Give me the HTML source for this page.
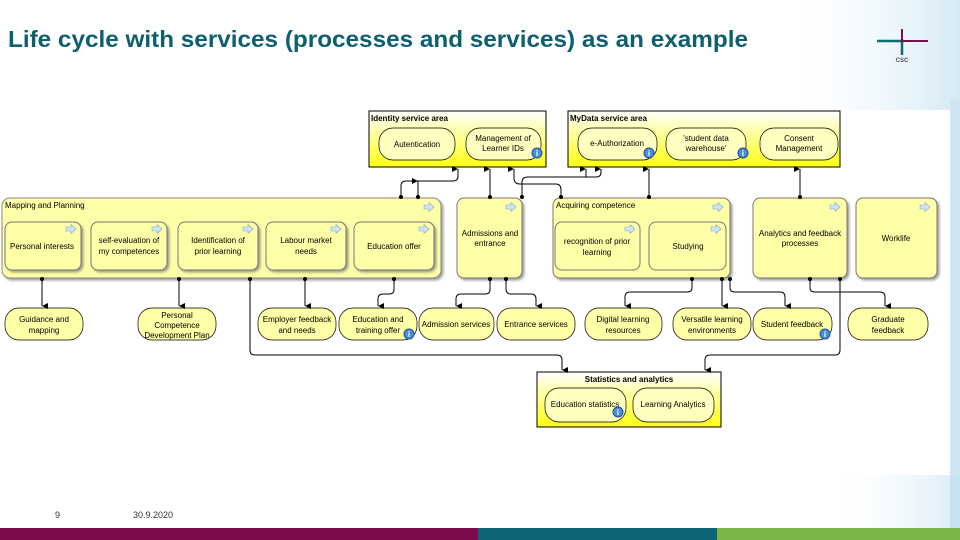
<!DOCTYPE html>
<html><head><meta charset="utf-8"><style>
html,body{margin:0;padding:0;background:#fff;}
svg{display:block;font-family:"Liberation Sans",sans-serif;}
</style></head><body>
<svg width="960" height="540" viewBox="0 0 960 540" xmlns="http://www.w3.org/2000/svg">
<defs>
<linearGradient id="ya" x1="0" y1="0" x2="0" y2="1"><stop offset="0" stop-color="#ffffff"/><stop offset="1" stop-color="#ffff10"/></linearGradient>
<linearGradient id="bg" x1="0" y1="0" x2="1" y2="0"><stop offset="0" stop-color="#ffffff" stop-opacity="0"/><stop offset="1" stop-color="#bfe0f0"/></linearGradient>
<filter id="sh" x="-5%" y="-5%" width="115%" height="120%"><feDropShadow dx="2" dy="2" stdDeviation="1.2" flood-color="#777" flood-opacity="0.7"/></filter>
<marker id="ar" viewBox="0 0 6 6" refX="3" refY="6" markerWidth="6" markerHeight="6" orient="auto-start-reverse"><path d="M0,0 L6,0 L3,6z" fill="#000"/></marker>
<g id="ic"><path d="M0,2 h5 v-2.5 l5,4.5 -5,4.5 v-2.5 h-5z" fill="#cfe6fb" stroke="#7aa4d0" stroke-width="0.6"/></g>
<g id="inf"><circle r="5" fill="#4a8fd8" stroke="#1d4f9a" stroke-width="1"/><text y="3" text-anchor="middle" font-size="8" font-weight="bold" fill="#fff">i</text></g>
</defs>
<rect x="0" y="0" width="960" height="540" fill="#fff"/>
<rect x="780" y="0" width="180" height="110" fill="url(#bg)" opacity="0.7"/>
<rect x="950" y="100" width="10" height="428" fill="#cfe6f2"/>
<rect x="830" y="475" width="130" height="53" fill="url(#bg)" opacity="0.6"/>
<text x="8" y="47" font-size="23" font-weight="bold" fill="#0e5f70" textLength="740" lengthAdjust="spacingAndGlyphs">Life cycle with services (processes and services) as an example</text>
<!-- logo -->
<path d="M877,41 h27 M902,41 v14" stroke="#0e6b70" stroke-width="2.5" fill="none"/>
<path d="M902,29 v12 h26" stroke="#7a1050" stroke-width="2" fill="none"/>
<text x="902" y="62" font-size="6" font-weight="bold" fill="#555" text-anchor="middle">CSC</text>

<g font-size="8" fill="#000" text-anchor="middle">
<rect x="369" y="111" width="177" height="56" fill="url(#ya)" stroke="#000"/>
<text x="371" y="121" text-anchor="start" font-weight="bold">Identity service area</text>
<rect x="379" y="128" width="76" height="32" rx="14" fill="#ffffc0" stroke="#000" stroke-width="0.7"/><text x="417" y="147">Autentication</text>
<rect x="466" y="128" width="75" height="32" rx="14" fill="#ffffc0" stroke="#000" stroke-width="0.7"/><text x="503" y="141">Management of</text><text x="503" y="151">Learner IDs</text>
<use href="#inf" x="537" y="153"/>
<rect x="568" y="111" width="272" height="56" fill="url(#ya)" stroke="#000"/>
<text x="570" y="121" text-anchor="start" font-weight="bold">MyData service area</text>
<rect x="578" y="128" width="79" height="32" rx="14" fill="#ffffc0" stroke="#000" stroke-width="0.7"/><text x="617" y="146">e-Authorization</text><use href="#inf" x="649" y="153"/>
<rect x="666" y="128" width="80" height="32" rx="14" fill="#ffffc0" stroke="#000" stroke-width="0.7"/><text x="706" y="141">'student data</text><text x="706" y="151">warehouse'</text><use href="#inf" x="743" y="153"/>
<rect x="760" y="128" width="78" height="32" rx="14" fill="#ffffc0" stroke="#000" stroke-width="0.7"/><text x="799" y="141">Consent</text><text x="799" y="151">Management</text>

<rect x="2" y="198" width="439" height="80" rx="8" fill="#ffffa8" stroke="#888" filter="url(#sh)"/>
<text x="5" y="208" text-anchor="start">Mapping and Planning</text><use href="#ic" x="424" y="203"/>
<g fill="#ffffa8" stroke="#777" filter="url(#sh)">
<rect x="5" y="222" width="76" height="48" rx="7"/><rect x="91" y="222" width="76" height="48" rx="7"/><rect x="178" y="222" width="80" height="48" rx="7"/><rect x="266" y="222" width="80" height="48" rx="7"/><rect x="354" y="222" width="80" height="48" rx="7"/>
<rect x="457" y="198" width="65" height="80" rx="7"/>
<rect x="553" y="198" width="177" height="80" rx="7"/>
<rect x="753" y="198" width="94" height="80" rx="7"/>
<rect x="856" y="198" width="81" height="80" rx="7"/>
</g>
<g fill="#ffffa8" stroke="#777"><rect x="555" y="222" width="85" height="48" rx="7"/><rect x="649" y="222" width="77" height="48" rx="7"/></g>
<use href="#ic" x="66" y="225"/><use href="#ic" x="152" y="225"/><use href="#ic" x="243" y="225"/><use href="#ic" x="331" y="225"/><use href="#ic" x="419" y="225"/>
<use href="#ic" x="506" y="203"/><use href="#ic" x="713" y="203"/><use href="#ic" x="625" y="225"/><use href="#ic" x="711" y="225"/><use href="#ic" x="830" y="203"/><use href="#ic" x="920" y="203"/>
<text x="42" y="249">Personal interests</text>
<text x="129" y="243">self-evaluation of</text><text x="129" y="254">my competences</text>
<text x="218" y="243">Identification of</text><text x="218" y="254">prior learning</text>
<text x="306" y="243">Labour market</text><text x="306" y="254">needs</text>
<text x="394" y="249">Education offer</text>
<text x="490" y="236">Admissions and</text><text x="490" y="246">entrance</text>
<text x="556" y="208" text-anchor="start">Acquiring competence</text>
<text x="597" y="244">recognition of prior</text><text x="597" y="255">learning</text>
<text x="688" y="249">Studying</text>
<text x="800" y="236">Analytics and feedback</text><text x="800" y="246">processes</text>
<text x="896" y="241">Worklife</text>

<g fill="#ffffa8" stroke="#000" stroke-width="0.7">
<rect x="5" y="308" width="78" height="32" rx="14"/><rect x="138" y="308" width="78" height="32" rx="14"/>
<rect x="258" y="308" width="78" height="32" rx="14"/><rect x="339" y="308" width="78" height="32" rx="14"/>
<rect x="419" y="308" width="75" height="32" rx="14"/><rect x="497" y="308" width="78" height="32" rx="14"/>
<rect x="585" y="308" width="77" height="32" rx="14"/><rect x="673" y="308" width="78" height="32" rx="14"/>
<rect x="753" y="308" width="79" height="32" rx="14"/><rect x="848" y="308" width="80" height="32" rx="14"/>
</g>
<text x="44" y="322">Guidance and</text><text x="44" y="333">mapping</text>
<text x="177" y="318">Personal</text><text x="177" y="328">Competence</text><text x="177" y="338">Development Plan</text>
<text x="297" y="322">Employer feedback</text><text x="297" y="333">and needs</text>
<text x="378" y="322">Education and</text><text x="378" y="333">training offer</text><use href="#inf" x="409" y="334"/>
<text x="456" y="327">Admission services</text>
<text x="536" y="327">Entrance services</text>
<text x="623" y="322">Digital learning</text><text x="623" y="333">resources</text>
<text x="712" y="322">Versatile learning</text><text x="712" y="333">environments</text>
<text x="792" y="327">Student feedback</text><use href="#inf" x="825" y="334"/>
<text x="888" y="322">Graduate</text><text x="888" y="333">feedback</text>

<rect x="537" y="372" width="184" height="55" fill="url(#ya)" stroke="#000"/>
<text x="629" y="382" font-weight="bold">Statistics and analytics</text>
<rect x="545" y="388" width="81" height="34" rx="14" fill="#ffffc0" stroke="#000" stroke-width="0.7"/><text x="585" y="407">Education statistics</text><use href="#inf" x="618" y="412"/>
<rect x="633" y="388" width="81" height="34" rx="14" fill="#ffffc0" stroke="#000" stroke-width="0.7"/><text x="673" y="407">Learning Analytics</text>
</g>

<g stroke="#000" stroke-width="1" fill="none" marker-end="url(#ar)">
<path d="M401,197 V186 Q401,181 406,181 H453 Q458,181 458,176 V169"/>
<path d="M418,197 V181"/>
<path d="M490,197 V169"/>
<path d="M561,197 V190 Q561,184 556,184 H520 Q514,184 514,178 V169"/>
<path d="M522,197 V182 Q522,177 528,177 H596 Q601,177 601,172 V169"/>
<path d="M586,177 V169"/>
<path d="M649,197 V169"/>
<path d="M800,197 V169"/>
<path d="M42,279 V306"/>
<path d="M179,279 V306"/>
<path d="M305,279 V306"/>
<path d="M394,279 V290 Q394,294 389,294 H383 Q378,294 378,299 V306"/>
<path d="M490,279 V290 Q490,294 485,294 H461 Q456,294 456,299 V306"/>
<path d="M506,279 V289 Q506,294 511,294 H531 Q536,294 536,299 V306"/>
<path d="M692,279 V288 Q692,292 687,292 H630 Q625,292 625,297 V306"/>
<path d="M722,279 V306"/>
<path d="M730,279 V288 Q730,292 735,292 H780 Q785,292 785,297 V306"/>
<path d="M810,279 V288 Q810,292 815,292 H880 Q885,292 885,297 V306"/>
<path d="M250,279 V350 Q250,355 255,355 H557 Q562,355 562,360 V370"/>
<path d="M840,279 V350 Q840,355 835,355 H710 Q705,355 705,360 V370"/>
</g>
<g fill="#000">
<circle cx="401" cy="197" r="2"/><circle cx="418" cy="197" r="2"/><circle cx="490" cy="197" r="2"/><circle cx="522" cy="197" r="2"/><circle cx="561" cy="197" r="2"/><circle cx="649" cy="197" r="2"/><circle cx="800" cy="197" r="2"/>
<circle cx="42" cy="279" r="2"/><circle cx="179" cy="279" r="2"/><circle cx="250" cy="279" r="2"/><circle cx="305" cy="279" r="2"/><circle cx="394" cy="279" r="2"/><circle cx="490" cy="279" r="2"/><circle cx="506" cy="279" r="2"/><circle cx="692" cy="279" r="2"/><circle cx="722" cy="279" r="2"/><circle cx="730" cy="279" r="2"/><circle cx="810" cy="279" r="2"/><circle cx="840" cy="279" r="2"/>
</g>

<text x="55" y="518" font-size="9" fill="#333">9</text>
<text x="133" y="518" font-size="9" fill="#333">30.9.2020</text>
<rect x="0" y="528" width="478" height="12" fill="#7d0a4a"/>
<rect x="478" y="528" width="239" height="12" fill="#0d6476"/>
<rect x="717" y="528" width="243" height="12" fill="#7ab648"/>
</svg>
</body></html>
